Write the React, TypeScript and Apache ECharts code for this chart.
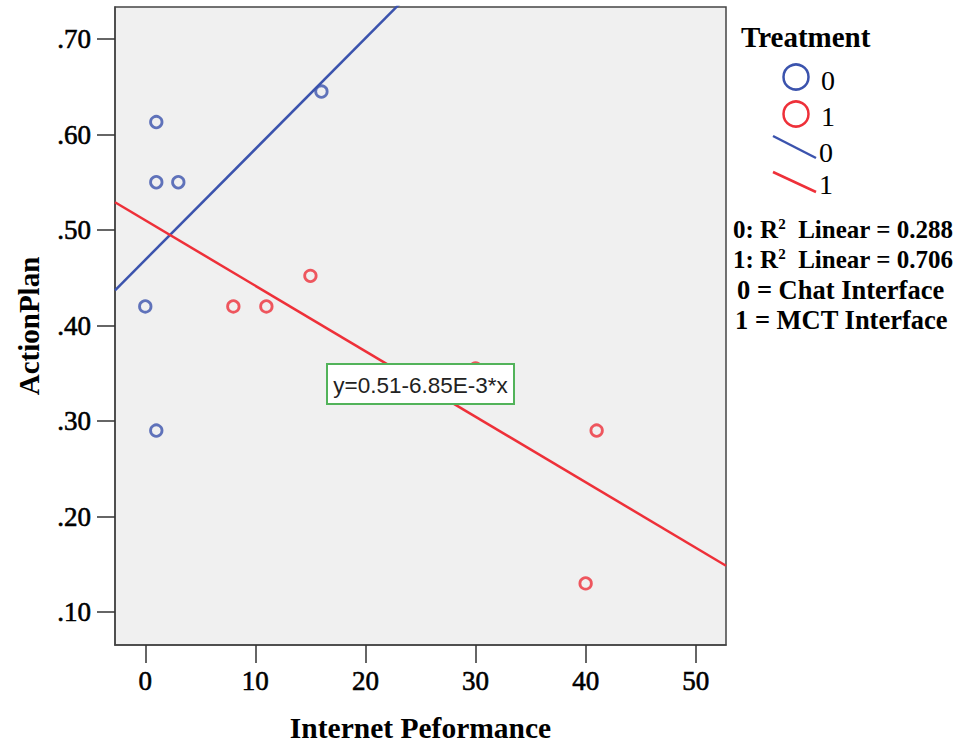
import React, { useEffect, useRef } from "react";
import * as echarts from "echarts";

// ---- data ----
const chatX = [0, 1, 1, 3, 1, 16];
const chatY = [0.42, 0.29, 0.55, 0.55, 0.613, 0.645];
const mctX = [8, 11, 15, 30, 41, 40];
const mctY = [0.42, 0.42, 0.452, 0.355, 0.29, 0.13];
const xTicks = [0, 10, 20, 30, 40, 50];
const yTicks = [0.1, 0.2, 0.3, 0.4, 0.5, 0.6, 0.7];
const xRange = [-2.75, 52.75];
const yRange = [0.0655, 0.7335];
const groupCodes = ["0", "1"];
const r2Values = ["0.288", "0.706"];
const groupNames = ["Chat Interface", "MCT Interface"];
const equationText = "y=0.51-6.85E-3*x";
const xTitle = "Internet Peformance";
const yTitle = "ActionPlan";
const legendTitle = "Treatment";

const BLUE = "#3b53ad";
const RED = "#ee3039";
const SERIF = "'Liberation Serif', 'Times New Roman', serif";
const SANS = "'Liberation Sans', Arial, sans-serif";

function fit(xs: number[], ys: number[]) {
  const n = xs.length;
  const mx = xs.reduce((a, b) => a + b, 0) / n;
  const my = ys.reduce((a, b) => a + b, 0) / n;
  let sxy = 0;
  let sxx = 0;
  for (let i = 0; i < n; i++) {
    sxy += (xs[i] - mx) * (ys[i] - my);
    sxx += (xs[i] - mx) * (xs[i] - mx);
  }
  const b = sxy / sxx;
  const a = my - b * mx;
  return [
    [xRange[0], a + b * xRange[0]],
    [xRange[1], a + b * xRange[1]],
  ];
}

export default function App() {
  const ref = useRef<HTMLDivElement>(null);
  useEffect(() => {
    document.body.style.margin = "0";
    const chart = echarts.init(ref.current!, null, { renderer: "svg" });
    const pts = (xs: number[], ys: number[]) => xs.map((x, i) => [x, ys[i]]);
    const marker = (color: string) => ({
      color: "rgba(0,0,0,0)",
      borderColor: color,
      borderWidth: 2.8,
    });
    const legendText = (text: string, x: number, y: number, extra: any = {}) => ({
      type: "text",
      x,
      y,
      z: 100,
      style: {
        text,
        fill: "#000",
        font: `28px ${SERIF}`,
        verticalAlign: "middle",
        ...extra,
      },
    });
    const r2Line = (i: number, y: number) => ({
      type: "text",
      x: 733,
      y,
      z: 100,
      style: {
        text: `{a|${groupCodes[i]}: R}{s|2}{a|  Linear = ${r2Values[i]}}`,
        verticalAlign: "middle",
        rich: {
          a: { fontFamily: SERIF, fontWeight: "bold", fontSize: 25, fill: "#000", lineHeight: 26 },
          s: { fontFamily: SERIF, fontWeight: "bold", fontSize: 15, fill: "#000", verticalAlign: "top", lineHeight: 26 },
        },
      },
    });
    const tickLabel = {
      fontFamily: SERIF,
      fontSize: 27,
      color: "#000",
      textBorderColor: "#000",
      textBorderWidth: 0.6,
    };

    chart.setOption({
      animation: false,
      backgroundColor: "#fff",
      grid: {
        left: 115,
        top: 7,
        right: 233,
        bottom: 103,
        show: true,
        backgroundColor: "#f0f0f0",
        borderColor: "#444",
        borderWidth: 1.5,
      },
      xAxis: {
        type: "value",
        min: xRange[0],
        max: xRange[1],
        name: xTitle,
        nameLocation: "middle",
        nameGap: 68,
        nameTextStyle: { fontFamily: SERIF, fontWeight: "bold", fontSize: 29.5, color: "#000" },
        axisLine: { show: true, onZero: false, lineStyle: { color: "#444", width: 1.5 } },
        axisTick: { show: true, inside: false, length: 18, customValues: xTicks, lineStyle: { color: "#333", width: 1.5 } },
        axisLabel: {
          customValues: xTicks,
          margin: 22,
          ...tickLabel,
          formatter: (v: number) => String(v),
        },
        splitLine: { show: false },
      },
      yAxis: {
        type: "value",
        min: yRange[0],
        max: yRange[1],
        name: yTitle,
        nameLocation: "middle",
        nameGap: 72,
        nameTextStyle: { fontFamily: SERIF, fontWeight: "bold", fontSize: 29, color: "#000" },
        axisLine: { show: true, onZero: false, lineStyle: { color: "#444", width: 1.5 } },
        axisTick: { show: true, inside: false, length: 18, customValues: yTicks, lineStyle: { color: "#333", width: 1.5 } },
        axisLabel: {
          customValues: yTicks,
          margin: 24,
          ...tickLabel,
          formatter: (v: number) => v.toFixed(2).replace(/^0/, ""),
        },
        splitLine: { show: false },
      },
      series: [
        {
          type: "line",
          data: fit(chatX, chatY),
          symbol: "none",
          clip: true,
          lineStyle: { color: BLUE, width: 2.5 },
          z: 2,
        },
        {
          type: "line",
          data: fit(mctX, mctY),
          symbol: "none",
          clip: true,
          lineStyle: { color: RED, width: 2.5 },
          z: 2,
        },
        {
          type: "scatter",
          data: pts(chatX, chatY),
          symbol: "circle",
          symbolSize: 11.5,
          itemStyle: marker(BLUE),
          z: 3,
        },
        {
          type: "scatter",
          data: pts(mctX, mctY),
          symbol: "circle",
          symbolSize: 11.5,
          itemStyle: marker(RED),
          z: 3,
        },
      ],
      graphic: [
        // equation annotation
        {
          type: "rect",
          z: 100,
          shape: { x: 327, y: 364, width: 187, height: 40 },
          style: { fill: "#fff", stroke: "#52b35a", lineWidth: 2 },
        },
        {
          type: "text",
          z: 101,
          x: 420.5,
          y: 385,
          style: {
            text: equationText,
            font: `22.5px ${SANS}`,
            fill: "#222",
            align: "center",
            verticalAlign: "middle",
          },
        },
        // legend
        legendText(legendTitle, 741, 37, { font: `bold 29px ${SERIF}` }),
        { type: "circle", z: 100, shape: { cx: 796, cy: 77, r: 12.5 }, style: { fill: "none", stroke: BLUE, lineWidth: 2.5 } },
        legendText(groupCodes[0], 821, 80),
        { type: "circle", z: 100, shape: { cx: 796, cy: 114, r: 12.5 }, style: { fill: "none", stroke: RED, lineWidth: 2.5 } },
        legendText(groupCodes[1], 821, 116),
        { type: "line", z: 100, shape: { x1: 773, y1: 136, x2: 816, y2: 158 }, style: { stroke: BLUE, lineWidth: 2.5 } },
        legendText(groupCodes[0], 819, 152),
        { type: "line", z: 100, shape: { x1: 773, y1: 172, x2: 816, y2: 192 }, style: { stroke: RED, lineWidth: 2.5 } },
        legendText(groupCodes[1], 819, 184),
        r2Line(0, 229),
        r2Line(1, 259),
        legendText(`${groupCodes[0]} = ${groupNames[0]}`, 737, 290, { font: `bold 26.5px ${SERIF}` }),
        legendText(`${groupCodes[1]} = ${groupNames[1]}`, 735, 320, { font: `bold 26.5px ${SERIF}` }),
      ],
    });
    return () => chart.dispose();
  }, []);
  return <div ref={ref} style={{ width: 959, height: 748 }} />;
}
